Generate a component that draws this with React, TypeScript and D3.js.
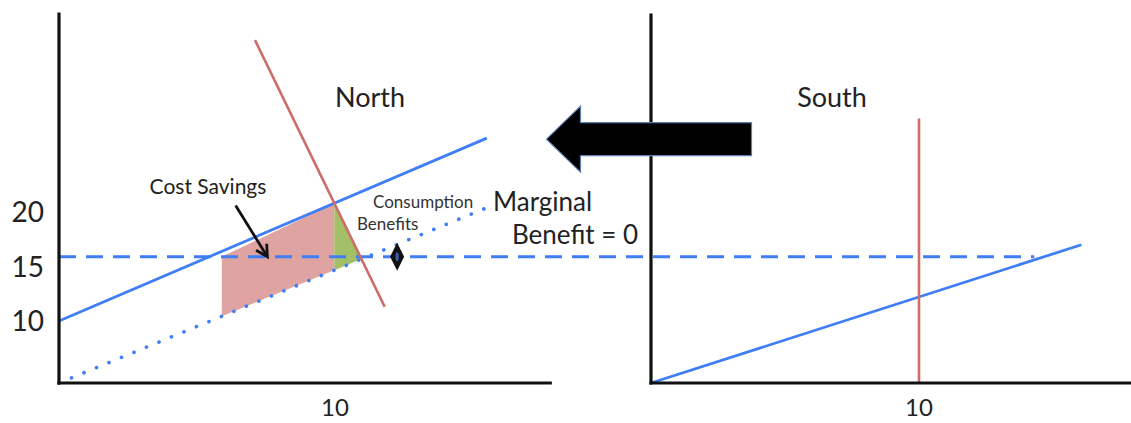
import React from "react";
import * as d3 from "d3";

// ---- data (schematic units: q = quantity, p = price) ----
const Y_TICKS = [10, 15, 20];
const X_TICKS = [10];
const PRICE = 15.9; // world price line (labelled 15)
const NORTH_MC = [{ q: 0, p: 10 }, { q: 15.5, p: 26.8 }];
const NORTH_MC_SHIFTED = [{ q: 0, p: 4.3 }, { q: 15.5, p: 20.4 }];
const NORTH_DEMAND = [{ q: 7.1, p: 35.8 }, { q: 11.8, p: 11.3 }];
const SOUTH_MC = [{ q: 0, p: 4.3 }, { q: 16.06, p: 17.0 }];
const SOUTH_DEMAND = [{ q: 10, p: 4.3 }, { q: 10, p: 28.6 }];
const SAVINGS_LEFT_Q = 5.9;
const DIAMOND_Q = 12.25;
const DASH_END_SOUTH_Q = 14.3;
const MOVE_ARROW = { fromQ: 3.75, toQ: -3.9, p: 26.7 }; // in South panel units
const COST_ARROW = { from: { q: 6.4, p: 20.6 }, to: { q: 7.55, p: PRICE } };

const W = 1131;
const H = 423;
const P_MIN = 4.3;
const P_MAX = 38.2;
const Q_AXIS_END_NORTH = 17.8;

const y = d3.scaleLinear().domain([P_MIN, P_MAX]).range([383, 14]);
const xN = d3.scaleLinear().domain([0, 10]).range([59, 335]);
const xS = d3.scaleLinear().domain([0, 10]).range([651, 919]);

type Pt = { q: number; p: number };

function lineAt(l: Pt[], q: number) {
  const [a, b] = l;
  return a.p + ((q - a.q) * (b.p - a.p)) / (b.q - a.q);
}
function intersect(l1: Pt[], l2: Pt[]): Pt {
  const m1 = (l1[1].p - l1[0].p) / (l1[1].q - l1[0].q);
  const m2 = (l2[1].p - l2[0].p) / (l2[1].q - l2[0].q);
  const c1 = l1[0].p - m1 * l1[0].q;
  const c2 = l2[0].p - m2 * l2[0].q;
  const q = (c2 - c1) / (m1 - m2);
  return { q, p: m1 * q + c1 };
}

const BLUE = "#3f7ef4";
const RED = "#cd6d67";
const FONT = "Lato, 'Open Sans', sans-serif";

export default function App() {
  const lnN = d3.line<Pt>().x((d) => xN(d.q)).y((d) => y(d.p));
  const lnS = d3.line<Pt>().x((d) => xS(d.q)).y((d) => y(d.p));

  const eq = intersect(NORTH_MC, NORTH_DEMAND);
  const dotAtEq = { q: eq.q, p: lineAt(NORTH_MC_SHIFTED, eq.q) };
  const demDot = intersect(NORTH_MC_SHIFTED, NORTH_DEMAND);
  const savings: Pt[] = [
    { q: SAVINGS_LEFT_Q, p: PRICE },
    eq,
    dotAtEq,
    { q: SAVINGS_LEFT_Q, p: lineAt(NORTH_MC_SHIFTED, SAVINGS_LEFT_Q) },
  ];
  const consumption: Pt[] = [eq, dotAtEq, demDot];
  const poly = (pts: Pt[]) => pts.map((d) => `${xN(d.q)},${y(d.p)}`).join(" ");

  // cost savings arrow
  const ax1 = xN(COST_ARROW.from.q), ay1 = y(COST_ARROW.from.p);
  const ax2 = xN(COST_ARROW.to.q), ay2 = y(COST_ARROW.to.p);
  const ang = Math.atan2(ay2 - ay1, ax2 - ax1);
  const hl = 13, ha = 0.5;
  const head = [
    [ax2 - hl * Math.cos(ang - ha), ay2 - hl * Math.sin(ang - ha)],
    [ax2, ay2],
    [ax2 - hl * Math.cos(ang + ha), ay2 - hl * Math.sin(ang + ha)],
  ];

  // big movement arrow
  const tipX = xS(MOVE_ARROW.toQ);
  const endX = xS(MOVE_ARROW.fromQ);
  const cy = y(MOVE_ARROW.p);
  const headLen = 34, headHalf = 33, shaftHalf = 16.5;
  const bigArrow = [
    [tipX, cy],
    [tipX + headLen, cy - headHalf],
    [tipX + headLen, cy - shaftHalf],
    [endX, cy - shaftHalf],
    [endX, cy + shaftHalf],
    [tipX + headLen, cy + shaftHalf],
    [tipX + headLen, cy + headHalf],
  ]
    .map((d) => d.join(","))
    .join(" ");

  const dx = xN(DIAMOND_Q), dy = y(PRICE);
  const y0 = y(P_MIN);

  return (
    <svg
      width={W}
      height={H}
      style={{ position: "fixed", left: 0, top: 0, background: "#fff" }}
      fontFamily={FONT}
    >
      {/* fills */}
      <polygon points={poly(savings)} fill="#dfa4a1" />
      <polygon points={poly(consumption)} fill="#a3bf68" />

      {/* price line spanning both panels */}
      <line
        x1={xN(0)}
        x2={xS(DASH_END_SOUTH_Q)}
        y1={y(PRICE)}
        y2={y(PRICE)}
        stroke={BLUE}
        strokeWidth={3.2}
        strokeDasharray="17 10"
      />

      {/* North curves */}
      <path d={lnN(NORTH_MC_SHIFTED)!} stroke={BLUE} strokeWidth={3.6} strokeDasharray="0.1 13.4" strokeLinecap="round" fill="none" />
      <path d={lnN(NORTH_MC)!} stroke={BLUE} strokeWidth={2.8} fill="none" />
      <path d={lnN(NORTH_DEMAND)!} stroke={RED} strokeWidth={2.6} fill="none" />

      {/* South curves */}
      <path d={lnS(SOUTH_MC)!} stroke={BLUE} strokeWidth={2.8} fill="none" />
      <path d={lnS(SOUTH_DEMAND)!} stroke={RED} strokeWidth={2.6} fill="none" />

      {/* axes */}
      <g stroke="#111" strokeWidth={3.2} strokeLinecap="square">
        <line x1={xN(0)} x2={xN(0)} y1={y(P_MAX)} y2={y0} />
        <line x1={xN(0)} x2={xN(Q_AXIS_END_NORTH)} y1={y0} y2={y0} />
        <line x1={xS(0)} x2={xS(0)} y1={y(P_MAX) + 1} y2={y0} />
        <line x1={xS(0)} x2={W} y1={y0} y2={y0} />
      </g>

      {/* y tick labels */}
      {Y_TICKS.map((t) => (
        <text key={t} x={44} y={y(t) + 10} textAnchor="end" fontSize={28} fill="#222">
          {t}
        </text>
      ))}
      {/* x tick labels */}
      {X_TICKS.map((t) => (
        <g key={t}>
          <text x={xN(t)} y={416} textAnchor="middle" fontSize={24} fill="#222">{t}</text>
          <text x={xS(t)} y={416} textAnchor="middle" fontSize={24} fill="#222">{t}</text>
        </g>
      ))}

      {/* diamond marker */}
      <path d={`M${dx},${dy - 14} L${dx + 7},${dy} L${dx},${dy + 14} L${dx - 7},${dy} Z`} fill="#111" />
      <ellipse cx={dx} cy={dy} rx={1.6} ry={4.5} fill="#3a5fae" />

      {/* cost savings arrow */}
      <line x1={ax1} y1={ay1} x2={ax2} y2={ay2} stroke="#111" strokeWidth={2.8} />
      <polyline points={head.map((d) => d.join(",")).join(" ")} fill="none" stroke="#111" strokeWidth={2.8} strokeLinejoin="miter" />

      {/* big movement arrow */}
      <polygon points={bigArrow} fill="#000" stroke="#5d7fb0" strokeWidth={1.2} strokeLinejoin="miter" />

      {/* labels */}
      <text x={370} y={107} textAnchor="middle" fontSize={27} fill="#222">North</text>
      <text x={832} y={107} textAnchor="middle" fontSize={27} fill="#222">South</text>
      <text x={208} y={194} textAnchor="middle" fontSize={21} fill="#222">Cost Savings</text>
      <text x={373} y={208} fontSize={17} fill="#333">Consumption</text>
      <text x={357} y={230} fontSize={17} fill="#333">Benefits</text>
      <text x={493} y={211} fontSize={26} fill="#222">Marginal</text>
      <text x={512} y={244} fontSize={26} fill="#222">Benefit = 0</text>
    </svg>
  );
}
